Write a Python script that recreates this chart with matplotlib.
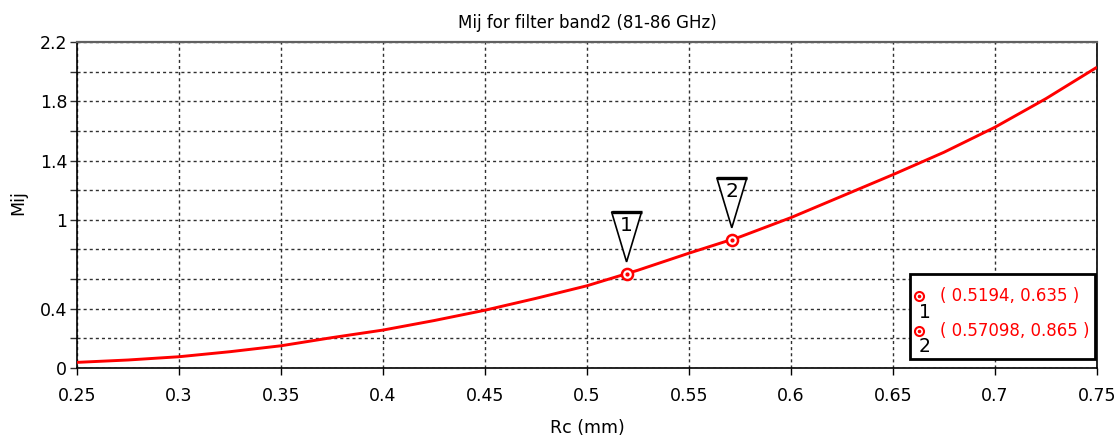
import matplotlib
matplotlib.use("Agg")
import matplotlib.pyplot as plt
from matplotlib.patches import Polygon, Rectangle
from matplotlib.transforms import offset_copy
from matplotlib.ticker import FixedLocator, FixedFormatter

# Swept coupling coefficient versus coupling radius
rc_mm = [0.25, 0.275, 0.3, 0.325, 0.35, 0.375, 0.4, 0.425, 0.45, 0.475, 0.5,
         0.525, 0.55, 0.575, 0.6, 0.625, 0.65, 0.675, 0.7, 0.725, 0.75]
mij = [0.038, 0.054, 0.076, 0.11, 0.15, 0.205, 0.256, 0.32, 0.39, 0.47, 0.555,
       0.66, 0.775, 0.885, 1.015, 1.16, 1.305, 1.456, 1.625, 1.818, 2.03]

# Markers
marker_ids = ["1", "2"]
marker_x = [0.5194, 0.57098]
marker_y = [0.635, 0.865]
marker_text = ["( 0.5194, 0.635 )", "( 0.57098, 0.865 )"]

x_ticks = [0.25, 0.3, 0.35, 0.4, 0.45, 0.5, 0.55, 0.6, 0.65, 0.7, 0.75]
x_tick_labels = ["0.25", "0.3", "0.35", "0.4", "0.45", "0.5", "0.55", "0.6", "0.65", "0.7", "0.75"]
y_ticks = [0, 0.2, 0.4, 0.6, 0.8, 1.0, 1.2, 1.4, 1.6, 1.8, 2.0, 2.2]
y_tick_labels = ["0", "", "0.4", "", "", "1", "", "1.4", "", "1.8", "", "2.2"]

W, H = 1119, 442
fig = plt.figure(figsize=(W / 100, H / 100), dpi=100)
L, R, T, B = 77, 1097, 42, 368
ax = fig.add_axes([L / W, 1 - B / H, (R - L) / W, (B - T) / H])

ax.set_xlim(0.25, 0.75)
ax.set_ylim(0, 2.2)

ax.plot(rc_mm, mij, color="#ff0000", lw=2.1, zorder=3, solid_capstyle="butt")

# grid
ax.xaxis.set_major_locator(FixedLocator(x_ticks))
ax.xaxis.set_major_formatter(FixedFormatter(x_tick_labels))
ax.yaxis.set_major_locator(FixedLocator(y_ticks))
ax.yaxis.set_major_formatter(FixedFormatter(y_tick_labels))
ax.grid(True, color="#303030", lw=1.0, ls=(0, (2.2, 2.2)), zorder=1)

ax.tick_params(axis="x", direction="out", length=5, width=1, pad=9,
               labelsize=12.5, color="black")
ax.tick_params(axis="y", direction="out", length=5, width=1, pad=2,
               labelsize=12.5, color="#303030")

for side in ["left", "bottom", "right"]:
    ax.spines[side].set_color("black")
    ax.spines[side].set_linewidth(1.2)
ax.spines["top"].set_color("#606060")
ax.spines["top"].set_linewidth(1.6)

ax.set_title("Mij for filter band2 (81-86 GHz)", fontsize=12, pad=10)
fig.text((L + R) / 2 / W, 1 - 428 / H, "Rc (mm)", ha="center", va="center", fontsize=12.5)
fig.text(18 / W, 1 - 203 / H, "Mij", ha="center", va="center", rotation=90, fontsize=12.5)

# marker symbols on the curve
ax.plot(marker_x, marker_y, ls="none", marker="o", ms=8, mfc="white",
        mec="#ff0000", mew=1.8, zorder=5)
ax.plot(marker_x, marker_y, ls="none", marker="o", ms=2, mfc="#ff0000",
        mec="#ff0000", zorder=6)

# triangular callouts above each marker (offsets in pixels)
tri_offsets = [(0, 12), (-15, 62), (15, 62)]
for mid, mx, my in zip(marker_ids, marker_x, marker_y):
    disp = ax.transData.transform((mx, my))
    poly_disp = [(disp[0] + dx, disp[1] + dy) for dx, dy in tri_offsets]
    poly_data = ax.transData.inverted().transform(poly_disp)
    ax.add_patch(Polygon(poly_data, closed=True, fc="white", ec="black",
                         lw=1.2, zorder=7))
    ax.plot([poly_data[1][0], poly_data[2][0]], [poly_data[1][1], poly_data[2][1]],
            color="black", lw=2.4, zorder=8, solid_capstyle="butt")
    ax.text(mx, my, mid, transform=offset_copy(ax.transData, fig=fig, x=0, y=48, units="dots"),
            ha="center", va="center", fontsize=14.5, zorder=9)

# marker table
bx0, bx1 = (910 - L) / (R - L), (1095 - L) / (R - L)
by0, by1 = (B - 359) / (B - T), (B - 274) / (B - T)
ax.add_patch(Rectangle((bx0, by0), bx1 - bx0, by1 - by0, transform=ax.transAxes,
                       fc="white", ec="black", lw=2, zorder=10))
rows_y = [(B - 296) / (B - T), (B - 331) / (B - T)]
num_y = [(B - 312) / (B - T), (B - 346) / (B - T)]
sx = (919 - L) / (R - L)
for i in range(len(marker_ids)):
    ax.plot([sx], [rows_y[i]], transform=ax.transAxes, marker="o", ms=6.5,
            mfc="white", mec="#ff0000", mew=1.5, ls="none", zorder=11, clip_on=False)
    ax.plot([sx], [rows_y[i]], transform=ax.transAxes, marker="o", ms=1.6,
            mfc="#ff0000", mec="#ff0000", ls="none", zorder=12, clip_on=False)
    ax.text((925 - L) / (R - L), num_y[i], marker_ids[i], transform=ax.transAxes,
            ha="center", va="center", fontsize=13.5, zorder=12)
    ax.text((940 - L) / (R - L), rows_y[i], marker_text[i], transform=ax.transAxes,
            ha="left", va="center", fontsize=12, color="#ff0000", zorder=12)

fig.savefig("out.png", dpi=100)
